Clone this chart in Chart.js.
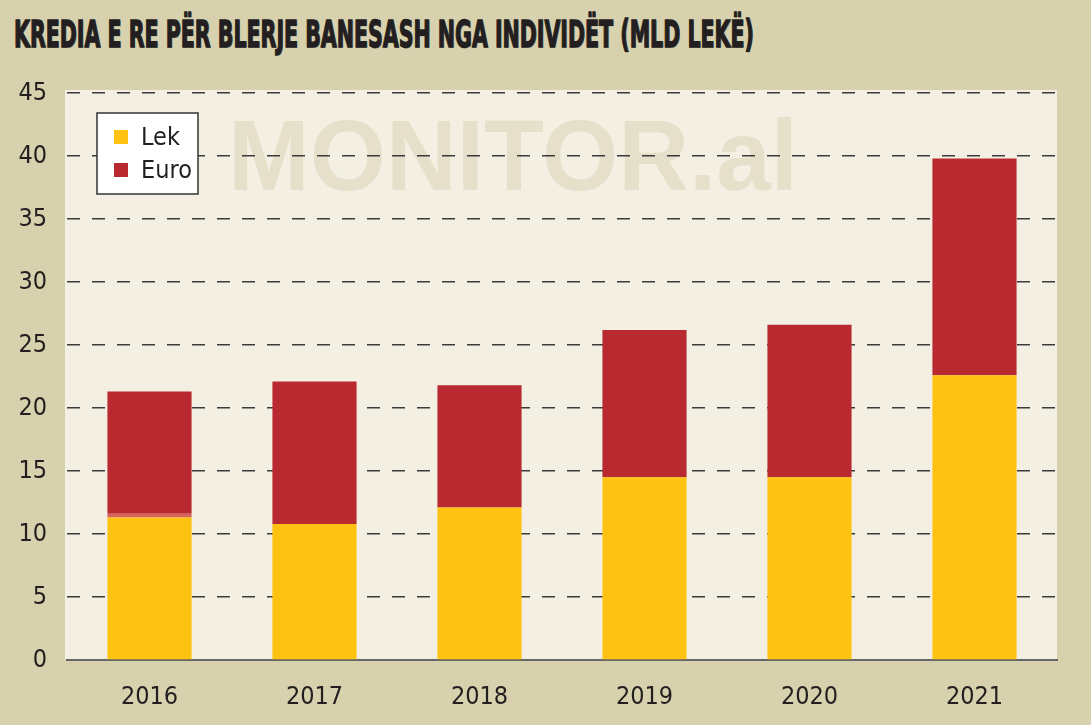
<!DOCTYPE html>
<html>
<head>
<meta charset="utf-8">
<script src="https://cdn.jsdelivr.net/npm/chart.js@4.4.1/dist/chart.umd.min.js"></script>
<style>
  html, body { margin: 0; padding: 0; background: #d7d1ae; }
  #wrap { position: relative; width: 1091px; height: 725px; overflow: hidden; }
  #title {
    position: absolute; left: 14px; top: 14px; margin: 0;
    font-family: 'Liberation Sans Narrow', 'DejaVu Sans Condensed', sans-serif;
    font-weight: bold; font-size: 37px; line-height: 42px; color: #231f20;
    white-space: nowrap; transform-origin: 0 0;
    -webkit-text-stroke: 1.3px #231f20;
    text-shadow: 1px 1px 0 #9a9484;
  }
  canvas { position: absolute; left: 0; top: 0; }
</style>
</head>
<body>
<div id="wrap">
  <div id="title">KREDIA E RE PËR BLERJE BANESASH NGA INDIVIDËT (MLD LEKË)</div>
  <canvas id="chart" width="1091" height="725"></canvas>
</div>
<script>
const years = ['2016', '2017', '2018', '2019', '2020', '2021'];
const lekValues = [11.3, 10.8, 12.1, 14.5, 14.5, 22.6];
// thin lighter strip visible between the two parts of the 2016 bar
const otherValues = [0.3, 0, 0, 0, 0, 0];
const euroValues = [9.7, 11.3, 9.7, 11.7, 12.1, 17.2];
const yTicks = [0, 5, 10, 15, 20, 25, 30, 35, 40, 45];

const FONT = "'Liberation Sans Narrow', 'DejaVu Sans Condensed', sans-serif";

// squeeze the title into its width
const title = document.getElementById('title');
title.style.transform = 'scaleX(' + (740 / title.offsetWidth) + ')';

const backdrop = {
    id: 'backdrop',
    beforeDraw(chart) {
        const {ctx, chartArea: a} = chart;
        ctx.save();
        ctx.fillStyle = '#f3f0e3';
        ctx.fillRect(a.left - 2, a.top - 3, a.right - a.left + 2, a.bottom - a.top + 3);
        // watermark
        ctx.font = 'bold 100px ' + "'Liberation Sans', 'DejaVu Sans', sans-serif";
        ctx.fillStyle = '#e6e0ca';
        ctx.textBaseline = 'alphabetic';
        const w = ctx.measureText('MONITOR.al').width;
        ctx.translate(228, 190);
        ctx.scale(570 / w, 1);
        ctx.fillText('MONITOR.al', 0, 0);
        ctx.restore();
    }
};

const boxLegend = {
    id: 'boxLegend',
    afterDraw(chart) {
        const ctx = chart.ctx;
        const items = chart.data.datasets.filter(d => d.showInLegend);
        ctx.save();
        ctx.fillStyle = '#ffffff';
        ctx.fillRect(97, 113, 101, 81);
        ctx.strokeStyle = '#333333';
        ctx.lineWidth = 1.5;
        ctx.strokeRect(97, 113, 101, 81);
        ctx.font = '25px ' + FONT;
        ctx.textBaseline = 'middle';
        items.forEach((d, i) => {
            const y = 137 + i * 33;
            ctx.fillStyle = d.backgroundColor;
            ctx.fillRect(114, y - 7, 14, 14);
            ctx.fillStyle = '#231f20';
            ctx.fillText(d.label, 141, y + 1);
        });
        ctx.restore();
    }
};

new Chart(document.getElementById('chart'), {
    type: 'bar',
    data: {
        labels: years,
        datasets: [
            {label: 'Lek', data: lekValues, backgroundColor: '#fec212', showInLegend: true},
            {label: 'Tjetër', data: otherValues, backgroundColor: '#d6645c', showInLegend: false},
            {label: 'Euro', data: euroValues, backgroundColor: '#b92930', showInLegend: true}
        ]
    },
    options: {
        responsive: false,
        animation: false,
        layout: {padding: {left: 2, right: 34, top: 93, bottom: 0}},
        datasets: {bar: {barPercentage: 0.51, categoryPercentage: 1}},
        plugins: {legend: {display: false}, tooltip: {enabled: false}},
        scales: {
            x: {
                stacked: true,
                grid: {display: false},
                border: {display: true, color: '#666666', width: 2},
                ticks: {color: '#231f20', font: {family: FONT, size: 25}, padding: 14},
                afterFit(scale) { scale.height = 65; }
            },
            y: {
                stacked: true,
                min: 0, max: 45,
                afterBuildTicks(scale) { scale.ticks = yTicks.map(v => ({value: v})); },
                grid: {
                    color: '#3a3a3a', lineWidth: 1.5, drawTicks: false
                },
                border: {display: false, dash: [13, 12]},
                ticks: {color: '#231f20', font: {family: FONT, size: 25}, padding: 20},
                afterFit(scale) { scale.width = 65; }
            }
        }
    },
    plugins: [backdrop, boxLegend]
});
</script>
</body>
</html>
